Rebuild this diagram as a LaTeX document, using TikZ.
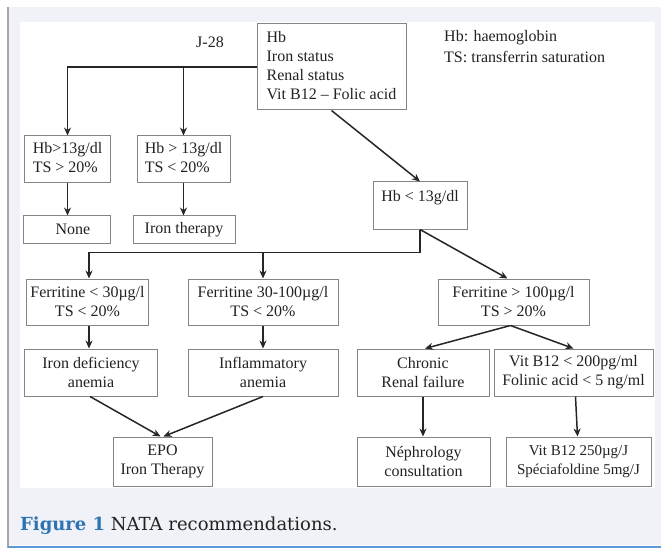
\documentclass[tikz,border=0pt]{standalone}
\usepackage{fontspec}
\setmainfont{Liberation Serif}
\newfontfamily\capfont{DejaVu Serif}
\usetikzlibrary{arrows.meta}
\definecolor{bgcol}{HTML}{F0F2F7}
\definecolor{capblue}{HTML}{2E74B5}
\definecolor{bottomblue}{HTML}{5B9BD5}
\definecolor{boxgray}{HTML}{858585}
\definecolor{txt}{HTML}{222222}
\tikzset{
  box/.style={draw=boxgray, line width=1bp, fill=white, inner sep=0pt, align=center,
    font=\fontsize{16bp}{19bp}\selectfont, text=txt},
  conn/.style={draw=black!85, line width=1.5bp},
  arr/.style={conn, -{Stealth[length=8bp,width=7bp]}},
  plain/.style={inner sep=0pt, font=\fontsize{16bp}{19bp}\selectfont, text=txt},
}
\begin{document}
\begin{tikzpicture}[x=1bp, y=-1bp]
\useasboundingbox (0,0) rectangle (661,548);
% page background
\fill[white] (0,0) rectangle (661,548);
\fill[bgcol] (8,7) rectangle (661,545);
\draw[gray!70, line width=1.2bp] (8,7) -- (8,548);
\fill[bottomblue] (8,545.5) rectangle (661,548);
\fill[white] (20,22) rectangle (655,488);
% caption
\node[anchor=base west, inner sep=0pt, font=\capfont\fontsize{18bp}{20bp}\selectfont] (cap) at (20,530)
  {\textcolor{capblue}{\bfseries Figure 1} \textcolor{txt}{NATA recommendations.}};
% texts
\node[plain] (j28) at (210,42) {J-28};
\node[plain, anchor=west] (lg1) at (444,38) {Hb: haemoglobin};
\node[plain, anchor=west] (lg2) at (444,57) {TS: transferrin saturation};
% boxes
\node[box, minimum width=149bp, minimum height=86bp] (top) at (331.5,67)
  {\begin{tabular}{@{}l@{}}Hb\\Iron status\\Renal status\\Vit B12 -- Folic acid\end{tabular}};
\node[box, minimum width=85bp, minimum height=47bp] (h1) at (67.5,159.5)
  {\begin{tabular}{@{}l@{}}Hb>13g/dl\\TS > 20\%\end{tabular}};
\node[box, minimum width=93bp, minimum height=47bp] (h2) at (183.5,159.5)
  {\begin{tabular}{@{}l@{}}Hb > 13g/dl\\TS < 20\%\end{tabular}};
\node[box, minimum width=86bp, minimum height=27bp] (none) at (67,229.5) {\hspace*{12bp}None};
\node[box, minimum width=102bp, minimum height=27bp] (ith) at (184,229.5) {Iron therapy};
\node[box, minimum width=94bp, minimum height=47bp] (hb) at (420,205.5) {Hb < 13g/dl\\\mbox{}};
\node[box, minimum width=121bp, minimum height=46bp] (f1) at (87.5,302) {Ferritine < 30µg/l\\TS < 20\%};
\node[box, minimum width=150bp, minimum height=46bp] (f2) at (263,302) {Ferritine 30-100µg/l\\TS < 20\%};
\node[box, minimum width=151bp, minimum height=46bp] (f3) at (513.5,302) {Ferritine > 100µg/l\\TS > 20\%};
\node[box, minimum width=132bp, minimum height=47bp] (idef) at (91,372.5) {Iron deficiency\\anemia};
\node[box, minimum width=150bp, minimum height=47bp] (infl) at (263,372.5) {Inflammatory\\anemia};
\node[box, minimum width=132bp, minimum height=47bp] (crf) at (423,372.5) {Chronic\\Renal failure};
\node[box, minimum width=159bp, minimum height=47bp] (vb) at (573.5,372.5) {Vit B12 < 200pg/ml\\Folinic acid < 5 ng/ml};
\node[box, minimum width=99bp, minimum height=49bp] (epo) at (162.5,461.5) {EPO\\Iron Therapy};
\node[box, minimum width=133bp, minimum height=49bp] (neph) at (423.5,461.5) {Néphrology\\consultation};
\node[box, minimum width=145bp, minimum height=49bp, font=\fontsize{15bp}{19bp}\selectfont] (vbt) at (578.5,461.5) {Vit B12 250µg/J\\Spéciafoldine 5mg/J};
% connectors
\draw[arr] (top.west) -| (h1.north);
\draw[arr] (h2.north |- top.west) -- (h2.north);
\draw[arr] (h1.south) -- (none.north -| h1.south);
\draw[arr] (h2.south) -- (ith.north -| h2.south);
\draw[arr] (top.south) -- (hb.north);
\coordinate (jn) at ([yshift=-23bp]hb.south);
\draw[arr] (hb.south) -- (jn) -| ([xshift=1.5bp]f1.north);
\draw[arr] (f2.north |- jn) -- (f2.north);
\draw[arr] (hb.south) -- ([xshift=-6bp]f3.north);
\draw[arr] ([xshift=1.5bp]f1.south) -- ([xshift=1.5bp]f1.south |- idef.north);
\draw[arr] (f2.south) -- (infl.north);
\draw[arr] ([xshift=-3bp]f3.south) -- ([xshift=2bp]crf.north);
\draw[arr] ([xshift=-3bp]f3.south) -- (vb.north);
\draw[arr] ([xshift=-1bp]idef.south) -- ([xshift=-2bp]epo.north);
\draw[arr] (infl.south) -- ([xshift=1bp]epo.north);
\draw[arr] (crf.south) -- (crf.south |- neph.north);
\draw[arr] ([xshift=2bp]vb.south) -- ([xshift=-1bp]vbt.north);
\end{tikzpicture}
\end{document}
